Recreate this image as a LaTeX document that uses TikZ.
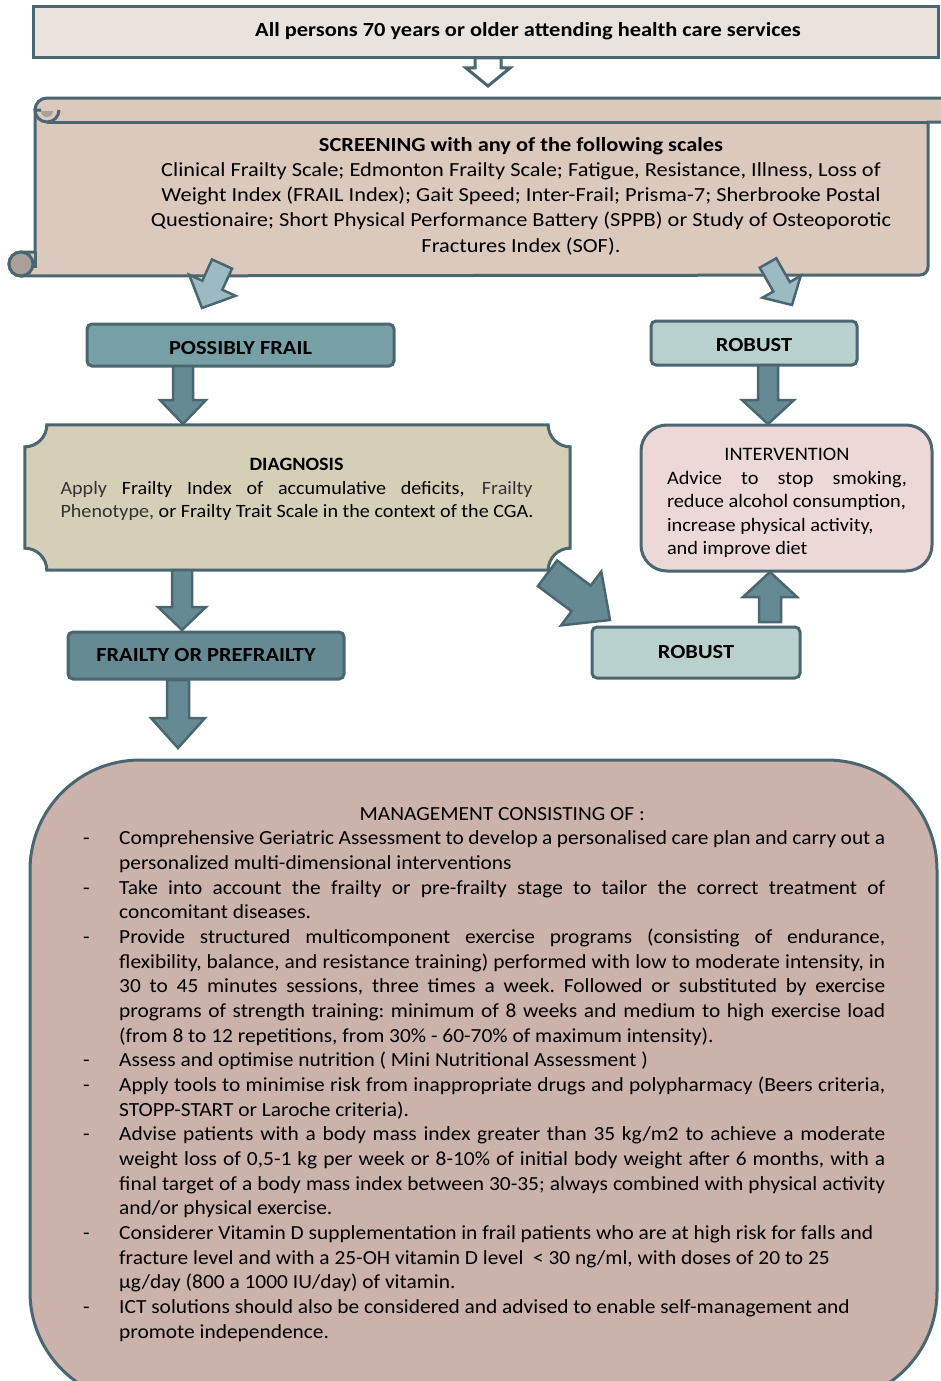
\documentclass[tikz,border=0pt]{standalone}
\usepackage{fontspec}
\setmainfont{Carlito}[FakeStretch=1.07]
\newfontfamily\widefont{Carlito}[FakeStretch=1.12]
\usetikzlibrary{calc}
\definecolor{edge}{RGB}{74,102,112}
\definecolor{topfill}{RGB}{234,226,220}
\definecolor{scrollfill}{RGB}{220,201,190}
\definecolor{curlfill}{RGB}{170,160,155}
\definecolor{paleblue}{RGB}{155,186,193}
\definecolor{frailfill}{RGB}{118,160,166}
\definecolor{robustfill}{RGB}{184,209,206}
\definecolor{darkarrow}{RGB}{102,138,147}
\definecolor{diagfill}{RGB}{214,207,183}
\definecolor{intfill}{RGB}{236,217,215}
\definecolor{mgmtfill}{RGB}{203,178,170}
% block arrow: style, from, to, shaft half width, head half width, head length
\newcommand{\blockarrow}[6]{%
  \coordinate (ba) at ($(#3)!#6!(#2)$);
  \filldraw[#1] ($(#2)!#4!90:(#3)$) -- ($(ba)!#4!90:(#3)$) -- ($(ba)!#5!90:(#3)$) -- (#3) -- ($(ba)!#5!-90:(#3)$) -- ($(ba)!#4!-90:(#3)$) -- ($(#2)!#4!-90:(#3)$) -- cycle;}
\newcommand{\mitem}[1]{\hbox{\hbox to 36pt{-\hfil}\hbox to 766pt{#1}}}
\newcommand{\mitemrag}[1]{\hbox{\hbox to 36pt{-\hfil}#1}}
\newcommand{\mline}[1]{\hbox{\hskip36pt\hbox to 766pt{#1}}}
\newcommand{\mrag}[1]{\hbox{\hskip36pt #1}}

\begin{document}
\begin{tikzpicture}[x=1pt,y=1pt,
  stagebox/.style={draw=edge,line width=3pt,rounded corners=5pt,inner sep=0pt,font=\widefont\bfseries\fontsize{20}{24}\selectfont},
  darr/.style={draw=edge,line width=2.5pt,fill=darkarrow},
  larr/.style={draw=edge,line width=2.5pt,fill=paleblue},
  warr/.style={draw=edge,line width=3pt,fill=white}]
\useasboundingbox (0,0) rectangle (940,-1381);
\draw[draw=edge,line width=3pt,fill=topfill] (33,-7) rectangle (938,-58);
\node[font=\widefont\bfseries\fontsize{20}{24}\selectfont] (all) at (528,-31.5) {All persons 70 years or older attending health care services};
% scroll
\filldraw[draw=edge,line width=3pt,fill=scrollfill] (47,-98) -- (950,-98) -- (950,-122) -- (928,-122) -- (928,-267) arc[start angle=0,end angle=-90,radius=8pt] -- (21,-276) arc[start angle=270,end angle=90,radius=12pt] -- (35,-252) -- (35,-110) arc[start angle=180,end angle=90,radius=12pt] -- cycle;
\fill[curlfill] (41,-111) arc[start angle=180,end angle=360,radius=6pt] -- cycle;
\draw[edge,line width=3pt] (41,-110) -- (35,-110) arc[start angle=180,end angle=360,radius=12pt];
\draw[edge,line width=3pt] (928,-122) -- (47,-122);
\filldraw[draw=edge,line width=3pt,fill=curlfill] (21,-264) circle[radius=12pt];
\draw[edge,line width=3pt] (35,-252) -- (35,-268);
\node[font=\widefont\fontsize{20}{25.3}\selectfont,align=center] (screen) at (521,-196) {\textbf{SCREENING with any of the following scales}\\
Clinical Frailty Scale; Edmonton Frailty Scale; Fatigue, Resistance, Illness, Loss of\\
Weight Index (FRAIL Index); Gait Speed; Inter-Frail; Prisma-7; Sherbrooke Postal\\
Questionaire; Short Physical Performance Battery (SPPB) or Study of Osteoporotic\\
Fractures Index (SOF).};
% boxes
\node[stagebox,fill=frailfill,minimum width=307pt,minimum height=42pt,text height=19pt,text depth=0pt] (pf) at (240.5,-345) {POSSIBLY FRAIL};
\node[stagebox,fill=robustfill,minimum width=206pt,minimum height=44pt,text height=17pt,text depth=0pt] (rob1) at (754,-343) {ROBUST};
\node[inner sep=0pt,minimum width=545pt,minimum height=145pt] (diag) at (297.5,-497.5) {};
\filldraw[draw=edge,line width=3pt,fill=diagfill] ($(diag.north west)+(22,0)$) -- ($(diag.north east)+(-22,0)$) arc[start angle=180,end angle=270,radius=22pt] -- ($(diag.south east)+(0,22)$) arc[start angle=90,end angle=180,radius=22pt] -- ($(diag.south west)+(22,0)$) arc[start angle=0,end angle=90,radius=22pt] -- ($(diag.north west)+(0,-22)$) arc[start angle=270,end angle=360,radius=22pt] -- cycle;
\node[anchor=north,inner sep=0pt] (diagtxt) at (297,-458) {\vbox{\fontsize{18.8}{23.5}\selectfont
\hbox to 472pt{\hfil\textbf{DIAGNOSIS}\hfil}
\hbox to 472pt{\textcolor{black!80}{Apply} Frailty Index of accumulative deficits, \textcolor{black!80}{Frailty}}
\hbox{\textcolor{black!80}{Phenotype,} or Frailty Trait Scale in the context of the CGA.}}};
\node[draw=edge,line width=3pt,fill=intfill,rounded corners=26pt,minimum width=291pt,minimum height=146pt] (interv) at (786.5,-498) {};
\node[anchor=north,inner sep=0pt] (intertxt) at (787,-448) {\vbox{\fontsize{19}{23.5}\selectfont
\hbox to 240pt{\hfil INTERVENTION\hfil}
\hbox to 240pt{Advice to stop smoking,}
\hbox{reduce alcohol consumption,}
\hbox{increase physical activity,}
\hbox{and improve diet}}};
\node[stagebox,fill=darkarrow,minimum width=276pt,minimum height=47pt] (fop) at (206,-655.5) {FRAILTY OR PREFRAILTY};
\node[stagebox,fill=robustfill,minimum width=208pt,minimum height=51pt] (rob2) at (696,-652.5) {ROBUST};
\node[draw=edge,line width=3pt,fill=mgmtfill,rounded corners=110pt,minimum width=907pt,minimum height=642pt] (mgmt) at (483.5,-1081) {};
\node[anchor=north west,inner sep=0pt] (mgmttxt) at (83,-807) {\vbox{\fontsize{20}{24.67}\selectfont\frenchspacing
\hbox{\hskip36pt\hbox to 766pt{\hfil MANAGEMENT CONSISTING OF :\hfil}}
\mitem{Comprehensive Geriatric Assessment to develop a personalised care plan and carry out a}
\mrag{personalized multi-dimensional interventions}
\mitem{Take into account the frailty or pre-frailty stage to tailor the correct treatment of}
\mrag{concomitant diseases.}
\mitem{Provide structured multicomponent exercise programs (consisting of endurance,}
\mline{flexibility, balance, and resistance training) performed with low to moderate intensity, in}
\mline{30 to 45 minutes sessions, three times a week. Followed or substituted by exercise}
\mline{programs of strength training: minimum of 8 weeks and medium to high exercise load}
\mrag{(from 8 to 12 repetitions, from 30\% - 60-70\% of maximum intensity).}
\mitemrag{Assess and optimise nutrition ( Mini Nutritional Assessment )}
\mitem{Apply tools to minimise risk from inappropriate drugs and polypharmacy (Beers criteria,}
\mrag{STOPP-START or Laroche criteria).}
\mitem{Advise patients with a body mass index greater than 35 kg/m2 to achieve a moderate}
\mline{weight loss of 0,5-1 kg per week or 8-10\% of initial body weight after 6 months, with a}
\mline{final target of a body mass index between 30-35; always combined with physical activity}
\mrag{and/or physical exercise.}
\mitemrag{Considerer Vitamin D supplementation in frail patients who are at high risk for falls and}
\mrag{fracture level and with a 25-OH vitamin D level \ < 30 ng/ml, with doses of 20 to 25}
\mrag{µg/day (800 a 1000 IU/day) of vitamin.}
\mitemrag{ICT solutions should also be considered and advised to enable self-management and}
\mrag{promote independence.}}};
% arrows
\coordinate (allout) at (488,-58);
\coordinate (scrin) at (488,-86);
\coordinate (scrl) at (222,-264);
\coordinate (pfin) at (202,-308);
\coordinate (scrr) at (768,-263);
\coordinate (robin) at (792,-305);
\coordinate (pfout) at (183,-366);
\coordinate (diagin) at (183,-424);
\coordinate (robout) at (768,-365);
\coordinate (intin) at (768,-424);
\coordinate (diagout) at (182,-570);
\coordinate (fopin) at (182,-630);
\coordinate (fopout) at (178,-680);
\coordinate (mgmtin) at (178,-748);
\coordinate (rob2out) at (770,-622);
\coordinate (intin2) at (770,-572);
\coordinate (diagout2) at (547.5,-573.3);
\coordinate (rob2in) at (610,-620);
\blockarrow{warr}{allout}{scrin}{13pt}{22pt}{18pt}
\blockarrow{larr}{scrl}{pfin}{11pt}{25.5pt}{25pt}
\blockarrow{larr}{scrr}{robin}{9.5pt}{22pt}{21pt}
\blockarrow{darr}{pfout}{diagin}{10pt}{23pt}{24pt}
\blockarrow{darr}{robout}{intin}{10pt}{26pt}{24pt}
\blockarrow{darr}{diagout}{fopin}{10pt}{24pt}{23pt}
\blockarrow{darr}{fopout}{mgmtin}{11pt}{27pt}{30pt}
\blockarrow{darr}{rob2out}{intin2}{11pt}{27pt}{25pt}
\blockarrow{darr}{diagout2}{rob2in}{16pt}{33.6pt}{36pt}
\end{tikzpicture}
\end{document}
